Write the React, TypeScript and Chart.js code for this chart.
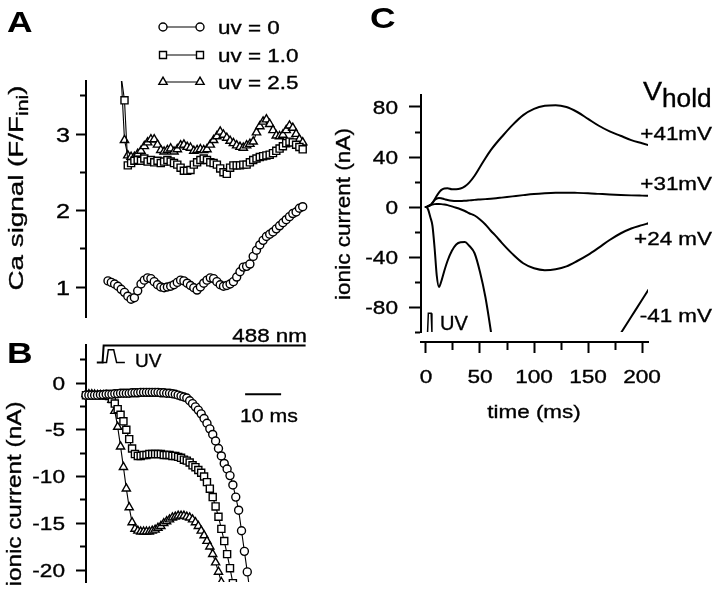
import React, { useEffect, useRef } from "react";
import { Chart, registerables } from "chart.js";

Chart.register(...registerables);

const FONT = '"Liberation Sans", Arial, Helvetica, sans-serif';
const W = 720;
const H = 589;

// ---------- Panel A : Ca signal (F/Fini), one value per frame ----------
const aUv0 = [
  1.08, 1.06, 1.04, 1.01, 0.97, 0.93, 0.88, 0.84, 0.86, 0.95,
  1.04, 1.09, 1.12, 1.11, 1.07, 1.03, 1.0, 0.99, 1.0, 1.01,
  1.03, 1.06, 1.09, 1.08, 1.05, 1.02, 0.99, 0.96, 1.0, 1.05,
  1.09, 1.12, 1.11, 1.07, 1.03, 1.01, 1.02, 1.04, 1.07, 1.13,
  1.2, 1.26, 1.27, 1.3, 1.4, 1.48, 1.55, 1.61, 1.66, 1.69,
  1.72, 1.76, 1.8, 1.84, 1.88, 1.92, 1.96, 1.98, 2.03, 2.05,
];
const aUv1 = [
  null, null, null, null, 3.75, 3.44, 2.59, 2.62, 2.65, 2.66,
  2.65, 2.68, 2.64, 2.66, 2.63, 2.65, 2.62, 2.64, 2.66, 2.64,
  2.62, 2.6, 2.56, 2.52, 2.52, 2.53, 2.6, 2.63, 2.66, 2.68,
  2.66, 2.63, 2.62, 2.6, 2.55, 2.5, 2.48, 2.56, 2.59, 2.59,
  2.59, 2.6, 2.6, 2.63, 2.66, 2.68, 2.7, 2.71, 2.72, 2.73,
  2.75, 2.78, 2.81, 2.84, 2.88, 2.9, 2.89, 2.86, 2.83, 2.8,
];
const aUv25 = [
  null, null, null, null, 3.75, 2.92, 2.72, 2.7, 2.7, 2.74,
  2.78, 2.84, 2.89, 2.93, 2.93, 2.86, 2.79, 2.77, 2.79, 2.81,
  2.77, 2.8, 2.85, 2.86, 2.83, 2.82, 2.78, 2.79, 2.8, 2.79,
  2.8, 2.86, 2.92, 2.97, 3.03, 2.99, 2.95, 2.91, 2.88, 2.85,
  2.83, 2.82, 2.85, 2.87, 2.9, 3.02, 3.1, 3.16, 3.19, 3.13,
  3.05, 2.98, 2.97, 2.99, 3.05, 3.11, 3.08, 3.0, 2.93, 2.89,
];
const aMajor = [1, 2, 3];
const aMinor = [1.5, 2.5, 3.5];
const aLegend = ["uv = 0", "uv = 1.0", "uv = 2.5"];

// ---------- Panel B : ionic current (nA), sampled every 0.8 ms ----------
const bStep = 0.8;
const bUv0 = [
  -1.3, -1.3, -1.3, -1.3, -1.3, -1.25, -1.25, -1.2, -1.2, -1.2,
  -1.15, -1.15, -1.1, -1.1, -1.1, -1.1, -1.05, -1.05, -1.05, -1.0,
  -1.0, -1.0, -1.0, -1.0, -1.0, -1.0, -1.05, -1.05, -1.1, -1.1,
  -1.15, -1.2, -1.3, -1.4, -1.5, -1.6, -1.9, -2.2, -2.55, -2.9,
  -3.3, -3.8, -4.3, -4.9, -5.5, -6.2, -7.0, -7.8, -8.6, -9.2,
  -9.9, -10.9, -12.2, -13.6, -15.8, -18.0, -20.2, -22.5,
];
const bUv1 = [
  -1.3, -1.3, -1.3, -1.3, -1.3, -1.3, -1.3, -1.35, -1.4, -1.7,
  -2.2, -2.8, -3.4, -4.1, -5.0, -6.0, -7.0, -7.6, -7.8, -7.8,
  -7.7, -7.7, -7.6, -7.6, -7.6, -7.6, -7.6, -7.7, -7.7, -7.7,
  -7.8, -7.8, -7.9, -8.0, -8.2, -8.3, -8.5, -8.8, -9.0, -9.3,
  -9.6, -10.0, -10.6, -11.3, -12.2, -13.2, -14.3, -15.6, -16.9, -18.3,
  -19.8, -21.4,
];
const bUv25 = [
  -1.2, -1.2, -1.2, -1.25, -1.3, -1.3, -1.3, -1.3, -1.4, -1.8,
  -3.0, -4.7, -6.8, -9.0, -11.3, -13.3, -14.9, -15.6, -15.8, -15.9,
  -15.9, -15.9, -15.9, -15.8, -15.7, -15.5, -15.3, -15.0, -14.8, -14.6,
  -14.4, -14.3, -14.2, -14.2, -14.2, -14.3, -14.4, -14.6, -14.9, -15.3,
  -15.8, -16.3, -16.9, -17.5, -18.3, -19.2, -20.2, -21.3,
];
const bMajor = [0, -5, -10, -15, -20];
const bMinor = [2.5, -2.5, -7.5, -12.5, -17.5];
const bLaserT = [3.0, 4.6, 4.9, 61.0];
const bLaserV = [2.2, 2.2, 4.0, 4.0];
const bUvT = [4.6, 5.7, 6.2, 7.7, 8.5, 10.8];
const bUvV = [2.2, 2.2, 3.55, 3.55, 2.2, 2.2];
const bBarT = [44.2, 54.2];
const bBarV = [-1.2, -1.2];

// ---------- Panel C : ionic current (nA) vs time (ms) ----------
const cTime = [
  -1, 0, 2, 4, 6, 8, 10, 12, 14, 17, 20, 24, 28, 32, 36, 40, 45, 50, 55, 60,
  65, 70, 80, 90, 100, 110, 120, 130, 140, 150, 160, 170, 180, 190, 200, 206,
];
const cP41 = [
  0, 0, 0.5, 1.5, 3, 6, 9, 11.5, 13.5, 14.8, 15, 14.2, 14.2, 14.8, 16.5, 19.5, 25, 32, 39, 45.5,
  51, 56, 65.5, 73.5, 78.5, 81, 81.5, 80, 76, 70.5, 65, 60.5, 57, 53.5, 51, 49.5,
];
const cP31 = [
  0, 0, 0.5, 1.5, 3.5, 5.5, 6.8, 7.2, 7, 6.3, 5.6, 5, 4.8, 4.8, 5, 5.3, 5.7, 6, 6.3, 6.6,
  7, 7.5, 8.5, 9.5, 10.4, 11, 11.4, 11.5, 11.3, 11, 10.5, 10, 9.6, 9.3, 9.1, 9,
];
const cP24 = [
  0, 0, 0.8, 1.5, 2, 2.3, 2.4, 2.4, 2.3, 2, 1.5, 0.5, -0.6, -1.8, -3.2, -5, -6.8, -10, -14, -19,
  -23.5, -28.5, -37.5, -45, -49, -50.5, -49.8, -47.5, -43.2, -38.3, -32.5, -26.4, -21.2, -17.2, -14.5, -13,
];
const cM41 = [
  0, 0, -2, -8, -15, -33, -55, -64, -60, -51, -43, -35, -30, -28.2, -28, -31, -37, -52, -72, -99,
  -130, null, null, null, null, null, null, null, null, null, null, -115, -101.4, -87.8, -74.2, -66,
];
const cYMajor = [80, 40, 0, -40, -80];
const cYMinor = [60, 20, -20, -60, -100];
const cXMajor = [0, 50, 100, 150, 200];
const cXMinor = [25, 75, 125, 175];
const cLabels = ["+41mV", "+31mV", "+24 mV", "-41 mV"];
const cUvT = [1.5, 2.2, 4.8, 5.5];
const cUvV = [-100, -85, -85, -100];

// ---------- helpers ----------
type Pt = { x: number; y: number | null };
const pairs = (xs: number[], ys: (number | null)[]): Pt[] => ys.map((y, i) => ({ x: xs[i], y }));
const sampled = (ys: (number | null)[], step: number): Pt[] => ys.map((y, i) => ({ x: i * step, y }));

function text(
  ctx: CanvasRenderingContext2D,
  s: string,
  x: number,
  y: number,
  size: number,
  o: { align?: CanvasTextAlign; sx?: number; bold?: boolean } = {}
) {
  ctx.save();
  ctx.translate(x, y);
  ctx.scale(o.sx ?? 1.18, 1);
  ctx.font = `${o.bold ? "bold " : ""}${size}px ${FONT}`;
  ctx.textAlign = o.align ?? "left";
  ctx.textBaseline = "alphabetic";
  ctx.fillStyle = "#000";
  ctx.fillText(s, 0, 0);
  if (!o.bold) {
    ctx.lineWidth = 0.35;
    ctx.strokeStyle = "#000";
    ctx.strokeText(s, 0, 0);
  }
  ctx.restore();
}

type Part = { t: string; size: number; dy?: number };
function vtitle(ctx: CanvasRenderingContext2D, parts: Part[], bx: number, cy: number, len: number) {
  ctx.save();
  let total = 0;
  const ws = parts.map((p) => {
    ctx.font = `${p.size}px ${FONT}`;
    const w = ctx.measureText(p.t).width;
    total += w;
    return w;
  });
  const sx = len / total;
  ctx.translate(bx, cy);
  ctx.rotate(-Math.PI / 2);
  ctx.scale(sx, 1);
  ctx.fillStyle = "#000";
  ctx.strokeStyle = "#000";
  ctx.lineWidth = 0.35;
  ctx.textBaseline = "alphabetic";
  ctx.textAlign = "left";
  let x = -total / 2;
  parts.forEach((p, i) => {
    ctx.font = `${p.size}px ${FONT}`;
    ctx.fillText(p.t, x, p.dy ?? 0);
    ctx.strokeText(p.t, x, p.dy ?? 0);
    x += ws[i];
  });
  ctx.restore();
}

function marker(ctx: CanvasRenderingContext2D, style: string, x: number, y: number) {
  ctx.save();
  ctx.beginPath();
  if (style === "circle") ctx.arc(x, y, 4.0, 0, Math.PI * 2);
  else if (style === "rect") ctx.rect(x - 3.5, y - 3.5, 7, 7);
  else {
    const r = 4.8;
    ctx.moveTo(x, y - r);
    ctx.lineTo(x + 0.866 * r, y + 0.5 * r);
    ctx.lineTo(x - 0.866 * r, y + 0.5 * r);
    ctx.closePath();
  }
  ctx.fillStyle = "#fff";
  ctx.fill();
  ctx.lineWidth = 1.4;
  ctx.strokeStyle = "#000";
  ctx.stroke();
  ctx.restore();
}

function valueAxis(min: number, max: number, major: number[], minor: number[], width: number, tl: number, minorLen: number) {
  const all = [...major, ...minor].sort((a, b) => a - b);
  return {
    type: "linear" as const,
    position: "left" as const,
    min,
    max,
    afterFit: (s: any) => {
      s.width = width;
    },
    afterBuildTicks: (s: any) => {
      s.ticks = all.map((v) => ({ value: v }));
    },
    ticks: { display: false },
    border: { display: true, color: "#000", width: 2 },
    grid: {
      display: true,
      drawOnChartArea: false,
      drawTicks: true,
      tickLength: tl,
      tickWidth: 2,
      tickColor: "#000",
      tickBorderDash: (c: any) => (c.tick && major.includes(c.tick.value) ? [] : [0, tl - minorLen, 40, 40]),
    },
  };
}

const markerSet = (data: Pt[], style: string, r: number) => ({
  data,
  borderColor: "#000",
  borderWidth: 1.1,
  pointStyle: style,
  pointRadius: r,
  pointBackgroundColor: "#fff",
  pointBorderColor: "#000",
  pointBorderWidth: 1.4,
  tension: 0,
  clip: { left: 8, top: 0, right: 0, bottom: 0 },
});

const traceSet = (data: Pt[], width: number, clip: any = undefined) => ({
  data,
  borderColor: "#000",
  borderWidth: width,
  pointRadius: 0,
  tension: 0,
  clip,
});

const baseOptions = {
  responsive: false,
  animation: false as const,
  events: [] as any[],
  plugins: { legend: { display: false }, tooltip: { enabled: false } },
};

// ---------- chart configs ----------
function configA(): any {
  const ann = {
    id: "annA",
    afterDraw(chart: any) {
      const ctx: CanvasRenderingContext2D = chart.ctx;
      const y = chart.scales.y;
      text(ctx, "A", 7, 32, 30, { bold: true, sx: 1.18 });
      aMajor.forEach((v) => text(ctx, String(v), 70, y.getPixelForValue(v) + 7.5, 21, { align: "right", sx: 1.2 }));
      const styles = ["circle", "rect", "triangle"];
      const rows = [27, 55, 82];
      rows.forEach((ry, i) => {
        ctx.save();
        ctx.beginPath();
        ctx.moveTo(163, ry);
        ctx.lineTo(200, ry);
        ctx.lineWidth = 1.1;
        ctx.strokeStyle = "#000";
        ctx.stroke();
        ctx.restore();
        marker(ctx, styles[i], 163, ry);
        marker(ctx, styles[i], 200, ry);
        text(ctx, aLegend[i], 218, ry + 6.7, 19, { sx: 1.18 });
      });
      vtitle(
        ctx,
        [
          { t: "Ca signal (F/F", size: 21 },
          { t: "ini", size: 16, dy: 5 },
          { t: ")", size: 21 },
        ],
        23,
        188,
        205
      );
    },
  };
  return {
    type: "line",
    data: {
      datasets: [
        markerSet(sampled(aUv0, 1), "circle", 4.0),
        markerSet(sampled(aUv1, 1), "rect", 5.0),
        markerSet(sampled(aUv25, 1), "triangle", 4.8),
      ],
    },
    options: {
      ...baseOptions,
      layout: { padding: { left: 0, top: 81, right: W - 312, bottom: H - 317 } },
      scales: {
        x: { type: "linear", display: false, min: -6.667, max: 61.82 },
        y: valueAxis(0.608, 3.693, aMajor, aMinor, 86, 10, 6),
      },
    },
    plugins: [ann],
  };
}

function configB(): any {
  const ann = {
    id: "annB",
    afterDraw(chart: any) {
      const ctx: CanvasRenderingContext2D = chart.ctx;
      const y = chart.scales.y;
      text(ctx, "B", 7, 363, 30, { bold: true, sx: 1.18 });
      bMajor.forEach((v) => text(ctx, String(v), 65, y.getPixelForValue(v) + 6.7, 19, { align: "right", sx: 1.19 }));
      text(ctx, "488 nm", 307, 342, 19, { align: "right", sx: 1.18 });
      text(ctx, "UV", 135, 367, 19, { sx: 1.0 });
      text(ctx, "10 ms", 240, 422, 19, { sx: 1.12 });
      vtitle(ctx, [{ t: "ionic current (nA)", size: 21 }], 21, 494, 185);
    },
  };
  return {
    type: "line",
    data: {
      datasets: [
        traceSet(pairs(bLaserT, bLaserV), 2, false),
        traceSet(pairs(bUvT, bUvV), 1.5, false),
        traceSet(pairs(bBarT, bBarV), 2, false),
        markerSet(sampled(bUv0, bStep), "circle", 4.0),
        markerSet(sampled(bUv1, bStep), "rect", 5.0),
        markerSet(sampled(bUv25, bStep), "triangle", 4.7),
      ],
    },
    options: {
      ...baseOptions,
      layout: { padding: { left: 0, top: 345, right: W - 312, bottom: H - 582 } },
      scales: {
        x: { type: "linear", display: false, min: 0, max: 62.78 },
        y: valueAxis(-21.28, 4.064, bMajor, bMinor, 86, 10, 6),
      },
    },
    plugins: [ann],
  };
}

function configC(): any {
  const ann = {
    id: "annC",
    afterDraw(chart: any) {
      const ctx: CanvasRenderingContext2D = chart.ctx;
      const y = chart.scales.y;
      const x = chart.scales.x;
      text(ctx, "C", 370, 28, 30, { bold: true, sx: 1.18 });
      cYMajor.forEach((v) => text(ctx, String(v), 398, y.getPixelForValue(v) + 6.7, 19, { align: "right", sx: 1.19 }));
      cXMajor.forEach((v) => text(ctx, String(v), x.getPixelForValue(v), 383, 19, { align: "center", sx: 1.19 }));
      text(ctx, "time (ms)", 534, 418, 19, { align: "center", sx: 1.18 });
      text(ctx, "V", 643, 100, 26, { sx: 1.1 });
      text(ctx, "hold", 662, 107, 25, { sx: 1.05 });
      const ly = [140, 190, 245, 322];
      cLabels.forEach((s, i) => text(ctx, s, 712, ly[i], 19, { align: "right", sx: 1.18 }));
      text(ctx, "UV", 440, 330, 20, { sx: 1.0 });
      vtitle(ctx, [{ t: "ionic current (nA)", size: 21 }], 350, 214, 172);
    },
  };
  const all = (a: number[], b: number[]) => [...a, ...b].sort((p, q) => p - q);
  return {
    type: "line",
    data: {
      datasets: [
        { ...traceSet(pairs(cTime, cP41), 2), cubicInterpolationMode: "monotone" },
        { ...traceSet(pairs(cTime, cP31), 2), cubicInterpolationMode: "monotone" },
        { ...traceSet(pairs(cTime, cP24), 2), cubicInterpolationMode: "monotone" },
        { ...traceSet(pairs(cTime, cM41), 2), cubicInterpolationMode: "monotone" },
        traceSet(pairs(cUvT, cUvV), 1.5, false),
      ],
    },
    options: {
      ...baseOptions,
      layout: { padding: { left: 0, top: 95, right: W - 648, bottom: H - 332 } },
      scales: {
        x: {
          type: "linear",
          min: -4.6,
          max: 205.5,
          position: { y: -108 },
          afterBuildTicks: (s: any) => {
            s.ticks = all(cXMajor, cXMinor).map((v) => ({ value: v }));
          },
          ticks: { display: false },
          border: { display: true, color: "#000", width: 2 },
          grid: {
            display: true,
            drawOnChartArea: false,
            drawTicks: true,
            tickLength: 10,
            tickWidth: 2,
            tickColor: "#000",
            tickBorderDash: (c: any) => (c.tick && cXMajor.includes(c.tick.value) ? [] : [7, 40]),
          },
        },
        y: valueAxis(-100, 89.6, cYMajor, cYMinor, 421, 12, 6),
      },
    },
    plugins: [ann],
  };
}

export default function App() {
  const ra = useRef<HTMLCanvasElement>(null);
  const rb = useRef<HTMLCanvasElement>(null);
  const rc = useRef<HTMLCanvasElement>(null);

  useEffect(() => {
    const charts = [
      new Chart(ra.current!, configA()),
      new Chart(rb.current!, configB()),
      new Chart(rc.current!, configC()),
    ];
    return () => charts.forEach((c) => c.destroy());
  }, []);

  const st: React.CSSProperties = { position: "absolute", left: 0, top: 0, width: W, height: H };
  return (
    <div style={{ position: "absolute", left: 0, top: 0, width: W, height: H, background: "#fff" }}>
      <canvas ref={ra} width={W} height={H} style={st} />
      <canvas ref={rb} width={W} height={H} style={st} />
      <canvas ref={rc} width={W} height={H} style={st} />
    </div>
  );
}
